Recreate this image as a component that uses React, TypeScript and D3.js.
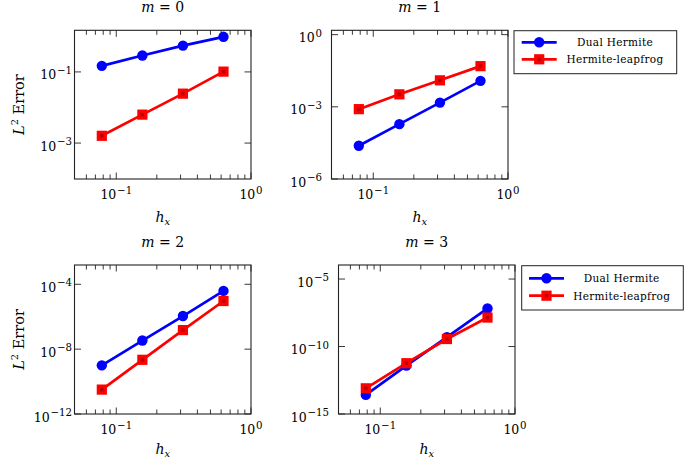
import React from 'react';
import * as d3 from 'd3';

// ---------- data ----------
const hx = [0.078125, 0.15625, 0.3125, 0.625];

const dualM0 = [0.148, 0.29, 0.55, 0.97];
const leapM0 = [0.0016, 0.0063, 0.0245, 0.102];

const dualM1 = [2.4e-5, 1.9e-4, 1.5e-3, 0.012];
const leapM1 = [8e-4, 3.3e-3, 0.0126, 0.049];

const dualM2 = [1e-9, 3.4e-8, 1.1e-6, 3.9e-5];
const leapM2 = [3.2e-11, 2.2e-9, 1.5e-7, 9.3e-6];

const dualM3 = [2.6e-14, 3.9e-12, 5e-10, 6.6e-8];
const leapM3 = [8e-14, 5.8e-12, 3.6e-10, 1.4e-8];

const mValues = ['0', '1', '2', '3'];
const xTickExps = [-1, 0];
const yTickExpsM0 = [-3, -1];
const yTickExpsM1 = [-6, -3, 0];
const yTickExpsM2 = [-12, -8, -4];
const yTickExpsM3 = [-15, -10, -5];
const legendLabels = ['Dual Hermite', 'Hermite-leapfrog'];

// ---------- style ----------
const FONT = '"DejaVu Serif", "Liberation Serif", serif';
const BLUE = '#0000ff';
const RED = '#ff0000';
const AXIS = '#222';

type Panel = {
  x0: number; x1: number; y0: number; y1: number;
  yExp: [number, number];
  yTicks: number[];
  dual: number[]; leap: number[];
  m: string;
  labelRight: number;
  yLabel: boolean;
  titleY: number; xLabelY: number;
  legend?: { x0: number; x1: number; y0: number; y1: number; r1: number; r2: number; s0: number; s1: number; tc: number };
};

const panels: Panel[] = [
  { x0: 74.5, x1: 251, y0: 30.3, y1: 179, yExp: [-4.01, 0.17], yTicks: yTickExpsM0, dual: dualM0, leap: leapM0, m: mValues[0], labelRight: 72, yLabel: true, titleY: 12, xLabelY: 221.5 },
  { x0: 331.5, x1: 508, y0: 30.3, y1: 179, yExp: [-6, 0.18], yTicks: yTickExpsM1, dual: dualM1, leap: leapM1, m: mValues[1], labelRight: 322, yLabel: false, titleY: 12, xLabelY: 221.5,
    legend: { x0: 514, x1: 676.7, y0: 30.7, y1: 73.7, r1: 42.3, r2: 59.3, s0: 521.7, s1: 556.7, tc: 615 } },
  { x0: 74.5, x1: 251, y0: 265, y1: 414, yExp: [-12, -2.81], yTicks: yTickExpsM2, dual: dualM2, leap: leapM2, m: mValues[2], labelRight: 72, yLabel: true, titleY: 247, xLabelY: 454 },
  { x0: 338.5, x1: 515, y0: 265, y1: 414, yExp: [-15, -3.96], yTicks: yTickExpsM3, dual: dualM3, leap: leapM3, m: mValues[3], labelRight: 329, yLabel: false, titleY: 247, xLabelY: 454,
    legend: { x0: 521.7, x1: 683.3, y0: 265.7, y1: 310, r1: 278.3, r2: 295.7, s0: 529, s1: 564, tc: 621.7 } },
];

const minus = (n: number) => (n < 0 ? '\u2212' + Math.abs(n) : String(n));

function Pow10({ x, y, exp, anchor }: { x: number; y: number; exp: number; anchor: 'middle' | 'end' }) {
  return (
    <text x={x} y={y} textAnchor={anchor} fontFamily={FONT} fontSize={12.5} fill="#000">
      10<tspan dy={-5.5} dx={0.8} fontSize={10.2}>{minus(exp)}</tspan>
    </text>
  );
}

function Square({ cx, cy, s }: { cx: number; cy: number; s: number }) {
  return (
    <g>
      <rect x={cx - s / 2} y={cy - s / 2} width={s} height={s} fill={RED} />
      <rect x={cx - 1.8} y={cy - 1.8} width={3.6} height={3.6} fill="#c00000" />
    </g>
  );
}

function PanelView({ p }: { p: Panel }) {
  const xs = d3.scaleLog().domain([10 ** -1.31, 1]).range([p.x0, p.x1]);
  const ys = d3.scaleLog().domain([10 ** p.yExp[0], 10 ** p.yExp[1]]).range([p.y1, p.y0]);
  const line = d3.line<number>().x((_, i) => xs(hx[i])).y((v) => ys(v));

  const minorX: number[] = [];
  [-2, -1].forEach((e) => {
    for (let k = 2; k <= 9; k++) {
      const v = k * 10 ** e;
      const px = xs(v);
      if (px > p.x0 + 2 && px < p.x1 - 1) minorX.push(v);
    }
  });
  const majorX = xTickExps.map((e) => 10 ** e);
  const MAJ = 6.5, MIN = 4.5;

  return (
    <g>
      {/* ticks */}
      {minorX.map((v, i) => (
        <g key={'mx' + i} stroke={AXIS} strokeWidth={0.9}>
          <line x1={xs(v)} x2={xs(v)} y1={p.y1} y2={p.y1 - MIN} />
          <line x1={xs(v)} x2={xs(v)} y1={p.y0} y2={p.y0 + MIN} />
        </g>
      ))}
      {majorX.map((v, i) => (
        <g key={'Mx' + i} stroke={AXIS} strokeWidth={0.9}>
          <line x1={xs(v)} x2={xs(v)} y1={p.y1} y2={p.y1 - MAJ} />
          <line x1={xs(v)} x2={xs(v)} y1={p.y0} y2={p.y0 + MAJ} />
        </g>
      ))}
      {p.yTicks.map((e, i) => (
        <g key={'My' + i} stroke={AXIS} strokeWidth={0.9}>
          <line x1={p.x0} x2={p.x0 + MAJ} y1={ys(10 ** e)} y2={ys(10 ** e)} />
          <line x1={p.x1} x2={p.x1 - MAJ} y1={ys(10 ** e)} y2={ys(10 ** e)} />
        </g>
      ))}
      {/* frame */}
      <rect x={p.x0} y={p.y0} width={p.x1 - p.x0} height={p.y1 - p.y0} fill="none" stroke={AXIS} strokeWidth={1.1} />

      {/* tick labels */}
      {xTickExps.map((e, i) => (
        <Pow10 key={'xl' + i} x={xs(10 ** e)} y={p.y1 + 20} exp={e} anchor="middle" />
      ))}
      {p.yTicks.map((e, i) => (
        <Pow10 key={'yl' + i} x={p.labelRight} y={ys(10 ** e) + 7.5} exp={e} anchor="end" />
      ))}

      {/* title */}
      <text x={(p.x0 + p.x1) / 2} y={p.titleY} textAnchor="middle" fontFamily={FONT} fontSize={14}>
        <tspan fontStyle="italic">m</tspan> = {p.m}
      </text>
      {/* x label */}
      <text x={(p.x0 + p.x1) / 2} y={p.xLabelY} textAnchor="middle" fontFamily={FONT} fontSize={14}>
        <tspan fontStyle="italic">h</tspan>
        <tspan fontStyle="italic" fontSize={10} dy={3}>x</tspan>
      </text>
      {/* y label */}
      {p.yLabel && (
        <text transform={`translate(24,${(p.y0 + p.y1) / 2}) rotate(-90)`} textAnchor="middle" fontFamily={FONT} fontSize={14.5}>
          <tspan fontStyle="italic">L</tspan>
          <tspan fontSize={10} dy={-6}>2</tspan>
          <tspan dy={6}> Error</tspan>
        </text>
      )}

      {/* series */}
      <path d={line(p.dual) || ''} fill="none" stroke={BLUE} strokeWidth={2.7} strokeLinejoin="round" />
      {p.dual.map((v, i) => (
        <circle key={'d' + i} cx={xs(hx[i])} cy={ys(v)} r={5.2} fill={BLUE} />
      ))}
      <path d={line(p.leap) || ''} fill="none" stroke={RED} strokeWidth={2.7} strokeLinejoin="round" />
      {p.leap.map((v, i) => (
        <Square key={'l' + i} cx={xs(hx[i])} cy={ys(v)} s={10.2} />
      ))}

      {/* legend */}
      {p.legend && (
        <g>
          <rect x={p.legend.x0} y={p.legend.y0} width={p.legend.x1 - p.legend.x0} height={p.legend.y1 - p.legend.y0} fill="#fff" stroke={AXIS} strokeWidth={1} />
          <line x1={p.legend.s0} x2={p.legend.s1} y1={p.legend.r1} y2={p.legend.r1} stroke={BLUE} strokeWidth={2.7} />
          <circle cx={(p.legend.s0 + p.legend.s1) / 2} cy={p.legend.r1} r={5.2} fill={BLUE} />
          <line x1={p.legend.s0} x2={p.legend.s1} y1={p.legend.r2} y2={p.legend.r2} stroke={RED} strokeWidth={2.7} />
          <Square cx={(p.legend.s0 + p.legend.s1) / 2} cy={p.legend.r2} s={10.2} />
          <text x={p.legend.tc} y={p.legend.r1 + 3.8} textAnchor="middle" fontFamily={FONT} fontSize={10.5} letterSpacing={0.3}>{legendLabels[0]}</text>
          <text x={p.legend.tc} y={p.legend.r2 + 3.8} textAnchor="middle" fontFamily={FONT} fontSize={10.5} letterSpacing={0.3}>{legendLabels[1]}</text>
        </g>
      )}
    </g>
  );
}

export default function App() {
  return (
    <svg width={685} height={458} style={{ position: 'absolute', left: 0, top: 0, background: '#fff' }}>
      <rect x={0} y={0} width={685} height={458} fill="#fff" />
      {panels.map((p, i) => (
        <PanelView key={i} p={p} />
      ))}
    </svg>
  );
}
